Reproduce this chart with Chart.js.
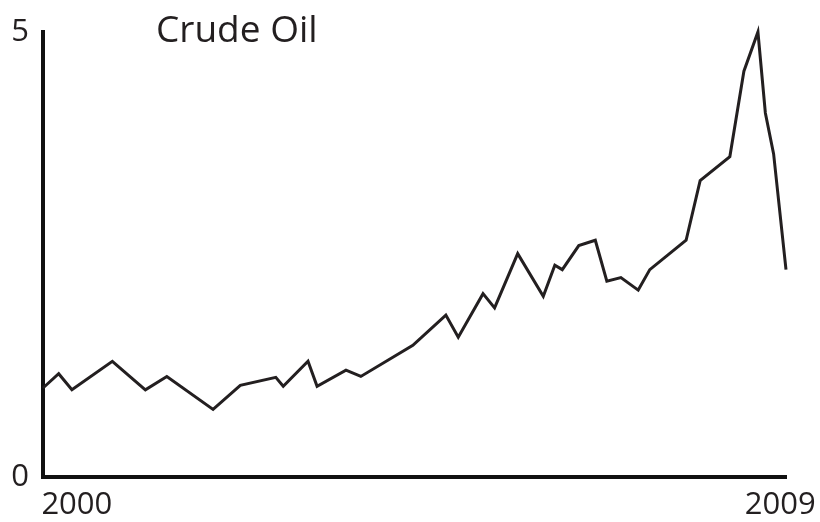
<!DOCTYPE html>
<html>
<head>
<meta charset="utf-8">
<title>Crude Oil</title>
<script src="https://cdn.jsdelivr.net/npm/chart.js@4.4.1/dist/chart.umd.min.js"></script>
<style>
  html, body { margin: 0; padding: 0; background: #fff; }
  #wrap { width: 820px; height: 522px; }
</style>
</head>
<body>
<div id="wrap"><canvas id="chart" width="820" height="522"></canvas></div>
<script>
/* Crude Oil price line, 2000 - 2009. */

// ---- Data ----
const years = [
  2000.00, 2000.19, 2000.35, 2000.84, 2001.24, 2001.50, 2002.06, 2002.39,
  2002.82, 2002.91, 2003.21, 2003.32, 2003.67, 2003.85, 2004.48, 2004.88,
  2005.03, 2005.33, 2005.47, 2005.75, 2006.06, 2006.20, 2006.29, 2006.49,
  2006.69, 2006.83, 2007.00, 2007.21, 2007.35, 2007.79, 2007.96, 2008.32,
  2008.49, 2008.66, 2008.75, 2008.85, 2009.00
];
const prices = [
  1.00, 1.16, 0.98, 1.30, 0.98, 1.13, 0.76, 1.03,
  1.12, 1.02, 1.30, 1.02, 1.20, 1.13, 1.48, 1.82,
  1.57, 2.06, 1.90, 2.51, 2.03, 2.38, 2.33, 2.60,
  2.66, 2.20, 2.24, 2.10, 2.33, 2.66, 3.33, 3.60,
  4.56, 5.00, 4.09, 3.63, 2.33
];
const yTicks = [0, 5];
const xTickLabels = ['2000', '2009'];
const xTickAt = [2000.41, 2008.93];   // label centres under the axis
const titleText = 'Crude Oil';

const INK = '#231f20';
const FONT = '"Open Sans", "DejaVu Sans", sans-serif';

// title sits inside the plot, up against the top of the y axis
const titlePlugin = {
  id: 'titleText',
  afterDraw(chart) {
    const ctx = chart.ctx;
    ctx.save();
    ctx.font = '37px ' + FONT;
    ctx.fillStyle = INK;
    ctx.textBaseline = 'alphabetic';
    ctx.fillText(titleText, 156, 42);
    ctx.restore();
  }
};

// fixed axis boxes so the plot lands where the reference has it
const fixBox = (w, h) => s => {
  if (w != null) s.width = w;
  if (h != null) s.height = h;
  s.paddingLeft = s.paddingRight = s.paddingTop = s.paddingBottom = 0;
};

new Chart(document.getElementById('chart'), {
  type: 'line',
  data: {
    datasets: [{
      data: years.map((x, i) => ({ x, y: prices[i] })),
      borderColor: INK,
      borderWidth: 3,
      pointRadius: 0,
      tension: 0,
      fill: false,
      clip: false
    }]
  },
  options: {
    responsive: false,
    animation: false,
    layout: { padding: { left: 0, right: 34, top: 32, bottom: 0 } },
    plugins: { legend: { display: false }, tooltip: { enabled: false } },
    scales: {
      x: {
        type: 'linear', min: 2000, max: 2009,
        afterBuildTicks: s => { s.ticks = xTickAt.map(v => ({ value: v })); },
        afterFit: fixBox(null, 45),
        grid: { display: false, drawTicks: false },
        border: { display: true, color: '#111', width: 4 },
        ticks: {
          autoSkip: false, maxRotation: 0, padding: 10, color: INK,
          font: { family: FONT, size: 31 },
          callback: (v, i) => xTickLabels[i]
        }
      },
      y: {
        min: 0, max: 5,
        afterBuildTicks: s => { s.ticks = yTicks.map(v => ({ value: v })); },
        afterFit: fixBox(43, null),
        grid: { display: false, drawTicks: false },
        border: { display: true, color: '#111', width: 4 },
        ticks: { padding: 14, color: INK, font: { family: FONT, size: 31 } }
      }
    }
  },
  plugins: [titlePlugin]
});
</script>
</body>
</html>
